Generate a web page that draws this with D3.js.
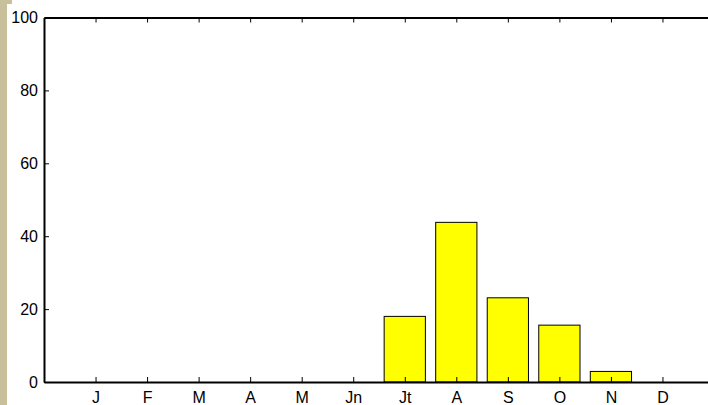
<!DOCTYPE html>
<html><head><meta charset="utf-8">
<script src="https://cdn.jsdelivr.net/npm/d3@7"></script>
<style>html,body{margin:0;padding:0;background:#fff;overflow:hidden}svg{display:block}</style>
</head><body>
<script>
const months = ["J","F","M","A","M","Jn","Jt","A","S","O","N","D"];
const values = [0,0,0,0,0,0,18,43.8,23.1,15.6,2.9,0];
const yTicks = [0,20,40,60,80,100];

(function(){
const W = 708, H = 405;
const svg = d3.select("body").append("svg").attr("width", W).attr("height", H);
svg.append("rect").attr("x",0).attr("y",0).attr("width",W).attr("height",H).attr("fill","#fff");
svg.append("rect").attr("x",0).attr("y",4).attr("width",7).attr("height",H-4).attr("fill","#c8bf9b");
svg.append("rect").attr("x",0).attr("y",0).attr("width",12).attr("height",4).attr("fill","#c8bf9b");

const mLeft = 44, mTop = 17.5, mBottom = 382, mRight = 714;
const x = d3.scaleLinear().domain([0,13]).range([mLeft,mRight]);
const y = d3.scaleLinear().domain([0,100]).range([mBottom,mTop]);
const bw = 0.8 * (x(1)-x(0));

const idx = months.map((m,i)=>i);
svg.append("g").selectAll("rect").data(idx).join("rect")
  .attr("x", i => x(i+1) - bw/2)
  .attr("y", i => y(values[i]))
  .attr("width", bw)
  .attr("height", i => Math.max(0, y(0)-y(values[i])))
  .attr("fill", "#ffff00")
  .attr("stroke", "#000")
  .attr("stroke-width", 1);

const font = "'Liberation Sans', Arial, sans-serif";
const xb = svg.append("g").attr("transform",`translate(0,${mBottom})`)
  .call(d3.axisBottom(x).tickValues(d3.range(1,13)).tickFormat(d=>months[d-1]).tickSize(-5).tickPadding(10).tickSizeOuter(0));
const xt = svg.append("g").attr("transform",`translate(0,${mTop})`)
  .call(d3.axisTop(x).tickValues(d3.range(1,13)).tickFormat("").tickSize(-5).tickSizeOuter(0));
const yl = svg.append("g").attr("transform",`translate(${mLeft},0)`)
  .call(d3.axisLeft(y).tickValues(yTicks).tickFormat(d3.format("d")).tickSize(-5).tickPadding(6).tickSizeOuter(0));
[xb,xt,yl].forEach(g=>{
  g.selectAll("path.domain").attr("stroke","#000").attr("stroke-width",2);
  g.selectAll(".tick line").attr("stroke","#000");
  g.selectAll("text").attr("fill","#000").style("font-size","16px").style("font-family",font);
});
})();
</script>
</body></html>
